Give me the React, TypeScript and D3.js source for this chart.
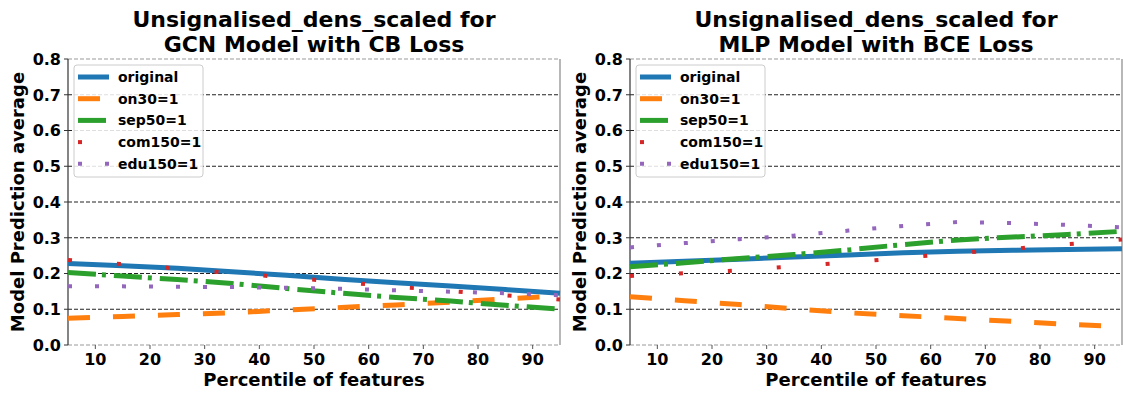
import React, { useEffect, useRef } from 'react';
import * as d3 from 'd3';

const percentiles = [5, 15, 25, 35, 45, 55, 65, 75, 85, 95];
const seriesNames = ['original', 'on30=1', 'sep50=1', 'com150=1', 'edu150=1'];
const xTicks = [10, 20, 30, 40, 50, 60, 70, 80, 90];
const yTicks = [0, 0.1, 0.2, 0.3, 0.4, 0.5, 0.6, 0.7, 0.8];

// GCN / CB loss
const gcnOriginal = [0.228, 0.222, 0.215, 0.205, 0.195, 0.184, 0.174, 0.165, 0.155, 0.145];
const gcnOn30 = [0.075, 0.08, 0.085, 0.09, 0.098, 0.105, 0.112, 0.12, 0.129, 0.137];
const gcnSep50 = [0.203, 0.193, 0.183, 0.172, 0.158, 0.145, 0.133, 0.123, 0.111, 0.1];
const gcnCom150 = [0.238, 0.226, 0.214, 0.201, 0.189, 0.176, 0.163, 0.151, 0.139, 0.127];
const gcnEdu150 = [0.164, 0.164, 0.163, 0.162, 0.16, 0.157, 0.153, 0.149, 0.145, 0.139];

// MLP / BCE loss
const mlpOriginal = [0.229, 0.234, 0.24, 0.246, 0.252, 0.258, 0.262, 0.265, 0.267, 0.269];
const mlpOn30 = [0.135, 0.124, 0.113, 0.101, 0.09, 0.082, 0.074, 0.066, 0.058, 0.051];
const mlpSep50 = [0.219, 0.23, 0.242, 0.253, 0.266, 0.281, 0.294, 0.302, 0.309, 0.318];
const mlpCom150 = [0.193, 0.201, 0.209, 0.22, 0.231, 0.244, 0.257, 0.269, 0.282, 0.295];
const mlpEdu150 = [0.273, 0.285, 0.296, 0.306, 0.32, 0.333, 0.344, 0.341, 0.336, 0.329];

const colors = ['#1f77b4', '#ff7f0e', '#2ca02c', '#d62728', '#9467bd'];
const dashes = ['', '22,23', '28,6,4,8', '4,45', '4,23'];
const font = 'DejaVu Sans, sans-serif';

const panels = [
  { left: 68, title: ['Unsignalised_dens_scaled for', 'GCN Model with CB Loss'], ys: [gcnOriginal, gcnOn30, gcnSep50, gcnCom150, gcnEdu150] },
  { left: 630, title: ['Unsignalised_dens_scaled for', 'MLP Model with BCE Loss'], ys: [mlpOriginal, mlpOn30, mlpSep50, mlpCom150, mlpEdu150] },
];

export default function App() {
  const ref = useRef<SVGSVGElement>(null);

  useEffect(() => {
    const svg = d3.select(ref.current);
    svg.selectAll('*').remove();
    const width = 492;
    const top = 59;
    const height = 286;

    panels.forEach(p => {
      const g = svg.append('g').attr('transform', `translate(${p.left},${top})`);
      const x = d3.scaleLinear().domain([5, 95]).range([0, width]);
      const y = d3.scaleLinear().domain([0, 0.8]).range([height, 0]);

      // grid
      g.selectAll('.grid')
        .data(yTicks)
        .enter()
        .append('line')
        .attr('x1', 0)
        .attr('x2', width)
        .attr('y1', d => y(d))
        .attr('y2', d => y(d))
        .attr('stroke', (d, i) => (i === 0 || i === yTicks.length - 1 ? '#999' : '#222'))
        .attr('stroke-width', 1)
        .attr('stroke-dasharray', '4,2');

      // spines
      g.append('line').attr('x1', 0).attr('x2', 0).attr('y1', 0).attr('y2', height).attr('stroke', '#333').attr('stroke-width', 1.2);
      g.append('line').attr('x1', width).attr('x2', width).attr('y1', 0).attr('y2', height).attr('stroke', '#888').attr('stroke-width', 1.2);

      // ticks
      g.selectAll('.xt')
        .data(xTicks)
        .enter()
        .append('line')
        .attr('x1', d => x(d))
        .attr('x2', d => x(d))
        .attr('y1', height)
        .attr('y2', height + 4)
        .attr('stroke', '#555');
      g.selectAll('.xl')
        .data(xTicks)
        .enter()
        .append('text')
        .attr('x', d => x(d))
        .attr('y', height + 20)
        .attr('text-anchor', 'middle')
        .style('font-family', font)
        .style('font-weight', 'bold')
        .style('font-size', '16px')
        .text(d => d);
      g.selectAll('.yt')
        .data(yTicks)
        .enter()
        .append('line')
        .attr('x1', -4)
        .attr('x2', 0)
        .attr('y1', d => y(d))
        .attr('y2', d => y(d))
        .attr('stroke', '#333');
      g.selectAll('.yl')
        .data(yTicks)
        .enter()
        .append('text')
        .attr('x', -7)
        .attr('y', d => y(d))
        .attr('dy', '0.36em')
        .attr('text-anchor', 'end')
        .style('font-family', font)
        .style('font-weight', 'bold')
        .style('font-size', '16px')
        .text(d => d.toFixed(1));

      // lines
      const line = d3
        .line<number>()
        .x((d, i) => x(percentiles[i]))
        .y(d => y(d));
      p.ys.forEach((vals, k) => {
        g.append('path')
          .attr('d', line(vals))
          .attr('fill', 'none')
          .attr('stroke', colors[k])
          .attr('stroke-width', k >= 3 ? 4 : 5)
          .attr('stroke-dasharray', dashes[k] || null);
      });

      // legend
      const lg = g.append('g').attr('transform', 'translate(6,6)');
      lg.append('rect')
        .attr('width', 129)
        .attr('height', 112)
        .attr('rx', 3)
        .attr('fill', 'white')
        .attr('fill-opacity', 0.85)
        .attr('stroke', '#ccc');
      seriesNames.forEach((name, k) => {
        const ry = 12 + k * 21.7;
        lg.append('line')
          .attr('x1', 4)
          .attr('x2', 35)
          .attr('y1', ry)
          .attr('y2', ry)
          .attr('stroke', colors[k])
          .attr('stroke-width', k >= 3 ? 4 : 5)
          .attr('stroke-dasharray', dashes[k] || null);
        lg.append('text')
          .attr('x', 44)
          .attr('y', ry)
          .attr('dy', '0.35em')
          .style('font-family', font)
          .style('font-weight', 'bold')
          .style('font-size', '14px')
          .text(name);
      });

      // titles
      p.title.forEach((t, i) => {
        svg.append('text')
          .attr('x', p.left + width / 2)
          .attr('y', 27 + i * 25)
          .attr('text-anchor', 'middle')
          .style('font-family', font)
          .style('font-weight', 'bold')
          .style('font-size', '22px')
          .text(t);
      });

      svg.append('text')
        .attr('x', p.left + width / 2)
        .attr('y', 386)
        .attr('text-anchor', 'middle')
        .style('font-family', font)
        .style('font-weight', 'bold')
        .style('font-size', '18px')
        .text('Percentile of features');

      svg.append('text')
        .attr('transform', `translate(${p.left - 44},${top + height / 2}) rotate(-90)`)
        .attr('text-anchor', 'middle')
        .style('font-family', font)
        .style('font-weight', 'bold')
        .style('font-size', '18px')
        .text('Model Prediction average');
    });
  }, []);

  return (
    <svg
      ref={ref}
      width={1123}
      height={394}
      style={{ position: 'absolute', left: 0, top: 0, background: 'white' }}
    />
  );
}
